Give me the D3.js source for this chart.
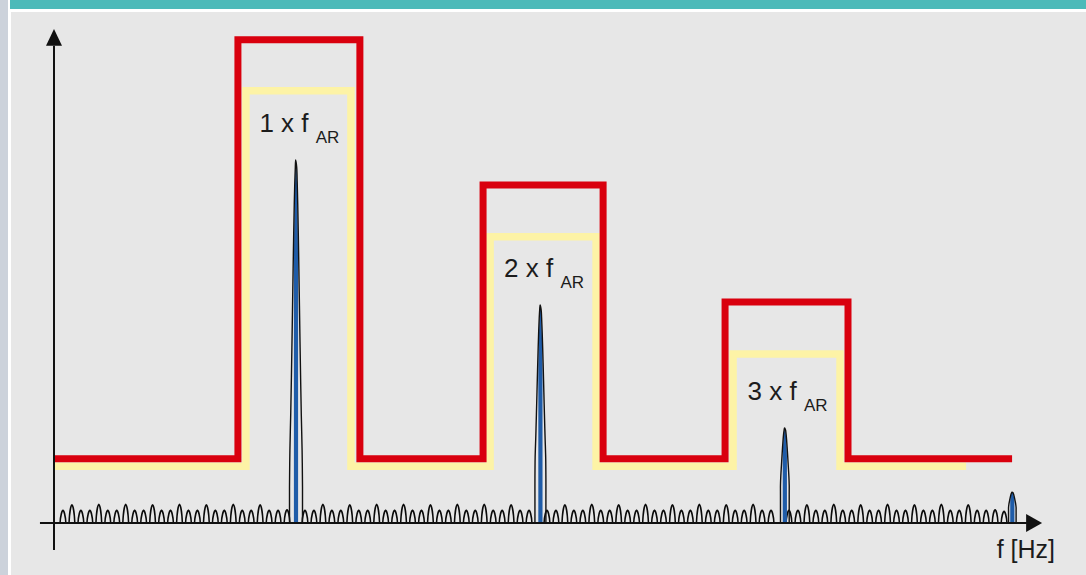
<!DOCTYPE html>
<html><head><meta charset="utf-8">
<script src="https://cdn.jsdelivr.net/npm/d3@7"></script>
<style>body{margin:0;background:#fff}svg{display:block}text{font-family:"Liberation Sans",Arial,sans-serif;fill:#1c1c1c}</style>
</head><body><svg id="c" width="1086" height="575"></svg>
<script>
// ---- data (frequency in multiples of f_AR, amplitude in %) ----
const harmonicLabels = ["1 x f", "2 x f", "3 x f"];
const harmonicSub = "AR";
const axisLabel = "f [Hz]";

const redBandLo    = [0.760, 1.773, 2.773];
const redBandHi    = [1.264, 2.269, 3.281];
const redBandLevel = [98.6, 69.0, 45.1];
const redBaseLevel = 13.1;
const redEnd       = 3.959;

const yellowBandLo    = [0.793, 1.802, 2.806];
const yellowBandHi    = [1.227, 2.240, 3.248];
const yellowBandLevel = [88.2, 58.4, 34.5];
const yellowBaseLevel = 11.6;
const yellowEnd       = 3.769;

const peakFreq = [1.00, 2.01, 3.02, 3.96];
const peakAmp  = [74.1, 44.5, 19.4, 6.3];

const noiseBinsPerHarmonic = 27;
// noise floor bins 1..106 (0 = hidden by a harmonic peak)
const noiseLevels = [
  2.5,3.6,2.5,2.5,3.7,2.5,2.5,3.7,2.5,2.5,3.6,2.5,2.5,3.7,2.5,2.5,3.6,2.5,2.5,3.7,2.5,2.5,3.6,2.5,2.5,2.6,
  0,
  2.5,2.5,3.7,2.5,2.5,3.6,2.5,2.5,3.7,2.5,2.5,3.7,2.5,2.5,3.6,2.5,2.5,3.7,2.5,2.5,3.7,2.5,2.5,3.6,2.5,2.5,
  0,
  2.5,2.5,3.6,2.5,2.5,3.7,2.5,2.5,3.6,2.5,2.5,3.7,2.5,2.5,3.6,2.5,2.5,3.7,2.5,2.5,3.6,2.5,2.5,3.7,2.5,2.5,
  0,
  2.5,2.5,3.6,2.5,2.5,3.7,2.5,2.5,3.6,2.5,2.5,3.7,2.5,2.5,3.6,2.5,2.5,3.7,2.5,2.5,3.6,2.5,2.5,2.6,2.3
];

// ---- drawing ----
const W = 1086, H = 575;
const svg = d3.select("#c");
svg.append("rect").attr("width", W).attr("height", H).attr("fill", "#ffffff");
svg.append("rect").attr("x", 0).attr("y", 0).attr("width", 8).attr("height", H).attr("fill", "#ccd2db");
svg.append("rect").attr("x", 10).attr("y", 0).attr("width", W - 10).attr("height", 9).attr("fill", "#4dbab9");
svg.append("rect").attr("x", 11).attr("y", 12).attr("width", W - 11).attr("height", H - 12).attr("fill", "#e7e7e7");

const x = d3.scaleLinear().domain([0, 4]).range([54, 1022]);
const y = d3.scaleLinear().domain([0, 100]).range([523, 33]);

function stepPoints(lo, hi, lvl, base, end) {
  const pts = [[0, base]];
  lo.forEach((l, i) => {
    pts.push([l, base], [l, lvl[i]], [hi[i], lvl[i]], [hi[i], base]);
  });
  pts.push([end, base]);
  return pts;
}
const line = d3.line().x(d => x(d[0])).y(d => y(d[1]));

svg.append("path")
  .attr("d", line(stepPoints(yellowBandLo, yellowBandHi, yellowBandLevel, yellowBaseLevel, yellowEnd)))
  .attr("fill", "none").attr("stroke", "#fdf3a6").attr("stroke-width", 7.5).attr("stroke-linejoin", "miter");
svg.append("path")
  .attr("d", line(stepPoints(redBandLo, redBandHi, redBandLevel, redBaseLevel, redEnd)))
  .attr("fill", "none").attr("stroke", "#d9000e").attr("stroke-width", 7).attr("stroke-linejoin", "miter");

// noise floor bumps
const gNoise = svg.append("g");
noiseLevels.forEach((v, i) => {
  if (!v) return;
  const cx = x((i + 1) / noiseBinsPerHarmonic);
  const b = y(0), t = y(v);
  const hw = 2.9;
  const p = d3.path();
  p.moveTo(cx - hw, b);
  p.bezierCurveTo(cx - hw + 0.4, b - (b - t) * 0.55, cx - 1.0, t, cx, t - 0.5);
  p.bezierCurveTo(cx + 1.0, t, cx + hw - 0.4, b - (b - t) * 0.55, cx + hw, b);
  gNoise.append("path").attr("d", p.toString()).attr("fill", "none")
    .attr("stroke", "#0a0a0a").attr("stroke-width", 1.5);
});

// harmonic peaks
const tSamples = [0, 0.02, 0.05, 0.1, 0.2, 0.3, 0.4, 0.5, 0.6, 0.7, 0.8, 0.88, 0.94, 0.98, 1];
peakFreq.forEach((f, i) => {
  const cx = x(f), b = y(0), top = y(peakAmp[i]);
  const hPx = b - top;
  const cap = Math.min(6.5, 3.5 + hPx / 110);
  const outerW = t => t >= 1 ? 0.3 : Math.min(cap, 3.4 * Math.sqrt(-2 * Math.log(Math.max(t, 1e-6))));
  const innerW = t => Math.min(2.1, 0.8 * outerW(t));
  const shape = wf => {
    const left = tSamples.map(t => [cx - wf(t), b - t * hPx]);
    const right = tSamples.slice().reverse().map(t => [cx + wf(t), b - t * hPx]);
    return d3.line().curve(d3.curveCatmullRom)(left.concat(right.slice(1)));
  };
  svg.append("path").attr("d", shape(innerW)).attr("fill", "#1f5ca8").attr("stroke", "none");
  svg.append("path").attr("d", shape(outerW)).attr("fill", "none")
    .attr("stroke", "#111").attr("stroke-width", 1.4);
});

// axes
svg.append("line").attr("x1", x(0)).attr("x2", x(0)).attr("y1", y(-5.5)).attr("y2", y(97.4))
  .attr("stroke", "#111").attr("stroke-width", 2);
svg.append("path")
  .attr("d", `M${x(0)},${y(100.8)}L${x(0) - 8},${y(97.4)}L${x(0) + 8},${y(97.4)}Z`)
  .attr("fill", "#111");
svg.append("line").attr("x1", x(-0.058)).attr("x2", x(4.02)).attr("y1", y(0)).attr("y2", y(0))
  .attr("stroke", "#111").attr("stroke-width", 2);
svg.append("path")
  .attr("d", `M${x(4.083)},${y(0)}L${x(4.017)},${y(0) - 9}L${x(4.017)},${y(0) + 9}Z`)
  .attr("fill", "#111");

// harmonic labels
harmonicLabels.forEach((lab, i) => {
  const cx = (x(yellowBandLo[i]) + x(yellowBandHi[i])) / 2 + 1;
  const ty = y(peakAmp[i]) - 28;
  const t = svg.append("text").attr("x", cx).attr("y", ty).attr("text-anchor", "middle")
    .attr("font-size", 26);
  t.append("tspan").text(lab + " ");
  t.append("tspan").attr("dy", 11).attr("font-size", 17).text(harmonicSub);
});

svg.append("text").attr("x", 1055).attr("y", 558).attr("text-anchor", "end")
  .attr("font-size", 25).text(axisLabel);
</script>
</body></html>
